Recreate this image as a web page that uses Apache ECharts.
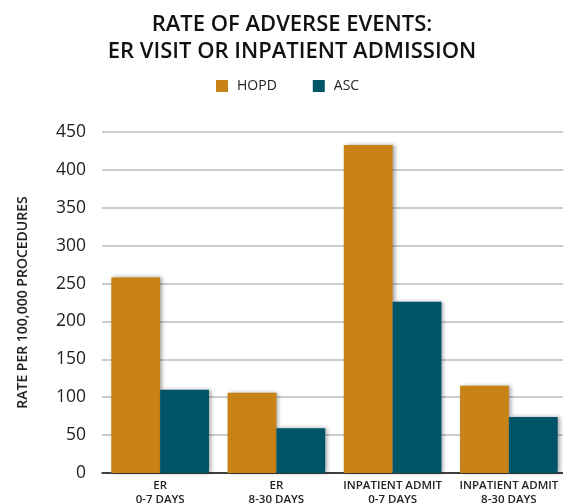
<!DOCTYPE html>
<html>
<head>
<meta charset="utf-8">
<script src="https://cdn.jsdelivr.net/npm/echarts@6/dist/echarts.min.js"></script>
<style>
	html, body { margin: 0; padding: 0; background: #fff; }
	#chart { width: 563px; height: 504px; }
</style>
</head>
<body>
<div id="chart"></div>
<script>
	// data
	var categories = ['ER\n0-7 DAYS', 'ER\n8-30 DAYS', 'INPATIENT ADMIT\n0-7 DAYS', 'INPATIENT ADMIT\n8-30 DAYS']
	var hopd = [258, 106, 433, 115]
	var asc = [110, 59, 226, 74]
	var seriesNames = ['HOPD', 'ASC']

	var font = 'Open Sans'
	var shadow = {
		shadowBlur: 4,
		shadowColor: 'rgba(0,0,0,0.35)',
		shadowOffsetX: 2,
		shadowOffsetY: 0
	}

	var chart = echarts.init(document.getElementById('chart'))
	chart.setOption({
		animation: false,
		title: {
			text: 'RATE OF ADVERSE EVENTS:\nER VISIT OR INPATIENT ADMISSION',
			left: 287,
			textAlign: 'center',
			top: 6,
			textStyle: {
				fontFamily: font,
				fontSize: 22,
				fontWeight: 600,
				lineHeight: 27,
				color: '#111'
			}
		},
		legend: {
			data: seriesNames,
			top: 74,
			left: 211,
			itemWidth: 12,
			itemHeight: 12,
			itemGap: 36,
			icon: 'rect',
			textStyle: {
				fontFamily: font,
				fontSize: 14,
				color: '#222',
				padding: [0, 0, 0, 4]
			}
		},
		grid: {
			left: 102,
			top: 132,
			width: 465,
			bottom: 31,
			outerBoundsMode: 'none'
		},
		xAxis: {
			type: 'category',
			data: categories,
			axisLine: { lineStyle: { color: '#111', width: 1.5 } },
			axisTick: { show: false },
			axisLabel: {
				fontFamily: font,
				fontSize: 11.5,
				fontWeight: 600,
				color: '#222',
				lineHeight: 14,
				margin: 6,
				interval: 0
			}
		},
		yAxis: {
			type: 'value',
			min: 0,
			max: 450,
			interval: 50,
			name: 'RATE PER 100,000 PROCEDURES',
			nameLocation: 'middle',
			nameGap: 72,
			nameTextStyle: {
				fontFamily: font,
				fontSize: 14,
				fontWeight: 600,
				color: '#222'
			},
			axisLine: { show: false },
			axisTick: { show: false },
			axisLabel: {
				fontFamily: font,
				fontSize: 17.5,
				color: '#222',
				margin: 16
			},
			splitLine: { lineStyle: { color: '#bbb', width: 1.5 } }
		},
		series: [{
				name: seriesNames[0],
				type: 'bar',
				data: hopd,
				barGap: 0,
				barCategoryGap: '16%',
				itemStyle: Object.assign({ color: '#C98215' }, shadow)
			},
			{
				name: seriesNames[1],
				type: 'bar',
				data: asc,
				itemStyle: Object.assign({ color: '#005467' }, shadow)
			}
		]
	})
</script>
</body>
</html>
